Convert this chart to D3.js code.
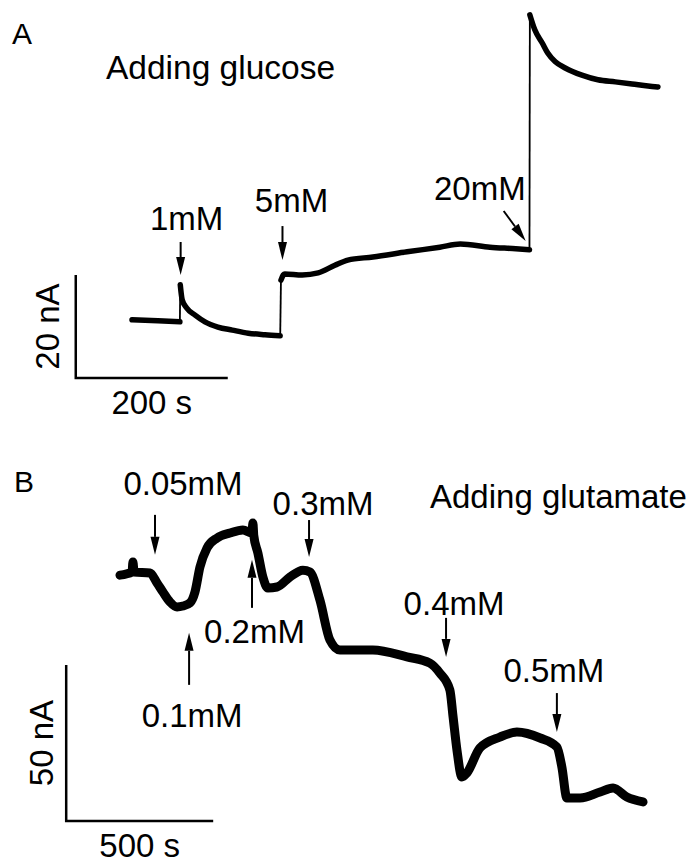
<!DOCTYPE html>
<html>
<head>
<meta charset="utf-8">
<script src="https://cdn.jsdelivr.net/npm/d3@7"></script>
<style>
  body { margin: 0; background: #fff; }
  text { font-family: "Liberation Sans", Arial, sans-serif; fill: #000; }
</style>
</head>
<body>
<div id="chart"></div>
<script>
// Panel A: glucose additions (time in s, current in nA)
const glucoseT = [0, 34, 63, 63.5, 66, 72, 83, 96, 113, 132, 153, 175, 195, 196, 199, 201, 224, 245, 267, 284, 317, 362, 405, 432, 471, 505, 523, 523.5, 530, 540, 547, 557, 570, 592, 613, 636, 658, 679, 692];
const glucoseI = [11.3, 11.1, 10.9, 18.1, 15.2, 13.6, 12.2, 10.9, 9.9, 9.3, 8.7, 8.4, 8.2, 19.0, 20.0, 20.2, 20.0, 20.4, 21.9, 22.9, 23.5, 24.5, 25.4, 26.0, 25.4, 25.1, 24.9, 70.5, 67.6, 65.0, 63.1, 61.4, 60.2, 58.8, 57.9, 57.5, 57.1, 56.7, 56.5];
const glucoseDoses = ["1mM", "5mM", "20mM"];
const glucoseDoseT = [64, 198, 518];
const glucoseDoseI = [20.0, 22.9, 26.6];

// Panel B: glutamate additions
const glutT = [0, 41, 44, 48, 102, 126, 146, 170, 194, 214, 238, 255, 272, 296, 330, 374, 418, 449, 452, 455, 469, 486, 503, 534, 578, 622, 646, 680, 714, 748, 860, 976, 1054, 1088, 1122, 1133, 1146, 1163, 1180, 1224, 1292, 1350, 1429, 1486, 1503, 1520, 1565, 1633, 1677, 1724, 1779];
const glutI = [78.8, 79.8, 83.0, 79.8, 79.5, 76.3, 73.4, 70.2, 68.6, 68.9, 69.9, 73.4, 81.4, 87.5, 90.7, 92.3, 93.3, 92.3, 95.5, 91.5, 85.9, 78.2, 74.7, 75.0, 78.2, 80.4, 79.8, 70.8, 58.0, 54.8, 54.8, 52.6, 50.6, 47.4, 42.0, 33.3, 22.8, 14.1, 15.4, 23.4, 26.9, 28.5, 26.6, 23.7, 17.3, 7.4, 7.4, 9.3, 10.6, 7.7, 6.1];
const glutDoses = ["0.05mM", "0.1mM", "0.2mM", "0.3mM", "0.4mM", "0.5mM"];
const glutDoseT = [119, 235, 449, 643, 1109, 1486];
const glutDoseI = [85.3, 60.3, 83.7, 84.6, 52.6, 28.5];

const svg = d3.select('#chart')
  .append('svg')
  .attr('width', 696)
  .attr('height', 862);

// scales: 200 s = 152 px, 20 nA = 103 px in A; 500 s = 147 px, 50 nA = 156 px in B
const xA = d3.scaleLinear().domain([0, 700]).range([132, 664]);
const yA = d3.scaleLinear().domain([0, 20]).range([378, 275]);
const xB = d3.scaleLinear().domain([0, 1800]).range([120, 649.2]);
const yB = d3.scaleLinear().domain([0, 50]).range([821, 665]);

function drawTrace(t, I, x, y, width) {
  // split where current jumps at once: the jump is drawn as a thin line
  const segs = [];
  const jumps = [];
  let cur = [[t[0], I[0]]];
  for (let i = 1; i < t.length; i++) {
    if (t[i] - t[i - 1] < 1.2) {
      segs.push(cur);
      jumps.push([[t[i - 1], I[i - 1]], [t[i], I[i]]]);
      cur = [[t[i], I[i]]];
    } else {
      cur.push([t[i], I[i]]);
    }
  }
  segs.push(cur);
  const jumpLine = d3.line().x(d => x(d[0])).y(d => y(d[1]));
  const line = d3.line().x(d => x(d[0])).y(d => y(d[1])).curve(d3.curveMonotoneX);
  svg.selectAll(null).data(jumps).enter().append('path')
    .attr('d', jumpLine)
    .attr('fill', 'none').attr('stroke', '#000').attr('stroke-width', 1.8);
  svg.selectAll(null).data(segs).enter().append('path')
    .attr('d', line)
    .attr('fill', 'none').attr('stroke', '#000')
    .attr('stroke-width', width)
    .attr('stroke-linejoin', 'round').attr('stroke-linecap', 'round');
}

function arrow(x1, y1, x2, y2) {
  const len = Math.hypot(x2 - x1, y2 - y1);
  const ux = (x2 - x1) / len, uy = (y2 - y1) / len;
  const head = 18, half = 4.5;
  const bx = x2 - ux * head, by = y2 - uy * head;
  svg.append('line')
    .attr('x1', x1).attr('y1', y1).attr('x2', bx).attr('y2', by)
    .attr('stroke', '#000').attr('stroke-width', 2);
  svg.append('polygon')
    .attr('points', [[x2, y2], [bx - uy * half, by + ux * half], [bx + uy * half, by - ux * half]].join(' '))
    .attr('fill', '#000');
}

function annotate(labels, ts, Is, x, y, layout) {
  labels.forEach((lab, i) => {
    const L = layout[i];
    const tx = x(ts[i]), ty = y(Is[i]);
    arrow(tx + L.dx, ty + L.dy, tx, ty);
    svg.append('text')
      .attr('x', tx + L.lx).attr('y', ty + L.ly)
      .attr('text-anchor', L.anchor || 'middle')
      .attr('font-size', 33)
      .text(lab);
  });
}

function scaleBar(x, y, t0, dt, dI, xLab, yLab, xLabDy, yLabDx) {
  const cx = x(t0), cy = y(0);
  svg.append('path')
    .attr('d', `M${cx},${y(dI)}V${cy}H${x(t0 + dt)}`)
    .attr('fill', 'none').attr('stroke', '#000').attr('stroke-width', 2.5);
  svg.append('text')
    .attr('x', (cx + x(t0 + dt)) / 2).attr('y', cy + xLabDy)
    .attr('text-anchor', 'middle').attr('font-size', 33)
    .text(xLab);
  const my = (cy + y(dI)) / 2;
  svg.append('text')
    .attr('transform', `translate(${cx + yLabDx},${my}) rotate(-90)`)
    .attr('text-anchor', 'middle').attr('font-size', 33)
    .text(yLab);
}

// Panel A
svg.append('text').attr('x', 12).attr('y', 44).attr('font-size', 30).text('A');
svg.append('text').attr('x', 106).attr('y', 79).attr('font-size', 33.5).text('Adding glucose');
drawTrace(glucoseT, glucoseI, xA, yA, 5.5);
annotate(glucoseDoses, glucoseDoseT, glucoseDoseI, xA, yA, [
  { dx: 0, dy: -33, lx: 6, ly: -45 },
  { dx: 0, dy: -34, lx: 9, ly: -48 },
  { dx: -22, dy: -30, lx: 0, ly: -41, anchor: 'end' }
]);
scaleBar(xA, yA, -74, 200, 20, '200 s', '20 nA', 36, -17);

// Panel B
svg.append('text').attr('x', 14).attr('y', 492).attr('font-size', 30).text('B');
svg.append('text').attr('x', 430).attr('y', 508).attr('font-size', 33).text('Adding glutamate');
drawTrace(glutT, glutI, xB, yB, 9);
annotate(glutDoses, glutDoseT, glutDoseI, xB, yB, [
  { dx: 0, dy: -40, lx: 28, ly: -60 },
  { dx: 0, dy: 52, lx: 3, ly: 94 },
  { dx: 0, dy: 48, lx: 2.5, ly: 83 },
  { dx: 0, dy: -37, lx: 14, ly: -42 },
  { dx: 0, dy: -39, lx: 8, ly: -42 },
  { dx: 0, dy: -39, lx: -3, ly: -50 }
]);
scaleBar(xB, yB, -183, 500, 50, '500 s', '50 nA', 35.5, -13);
</script>
</body>
</html>
